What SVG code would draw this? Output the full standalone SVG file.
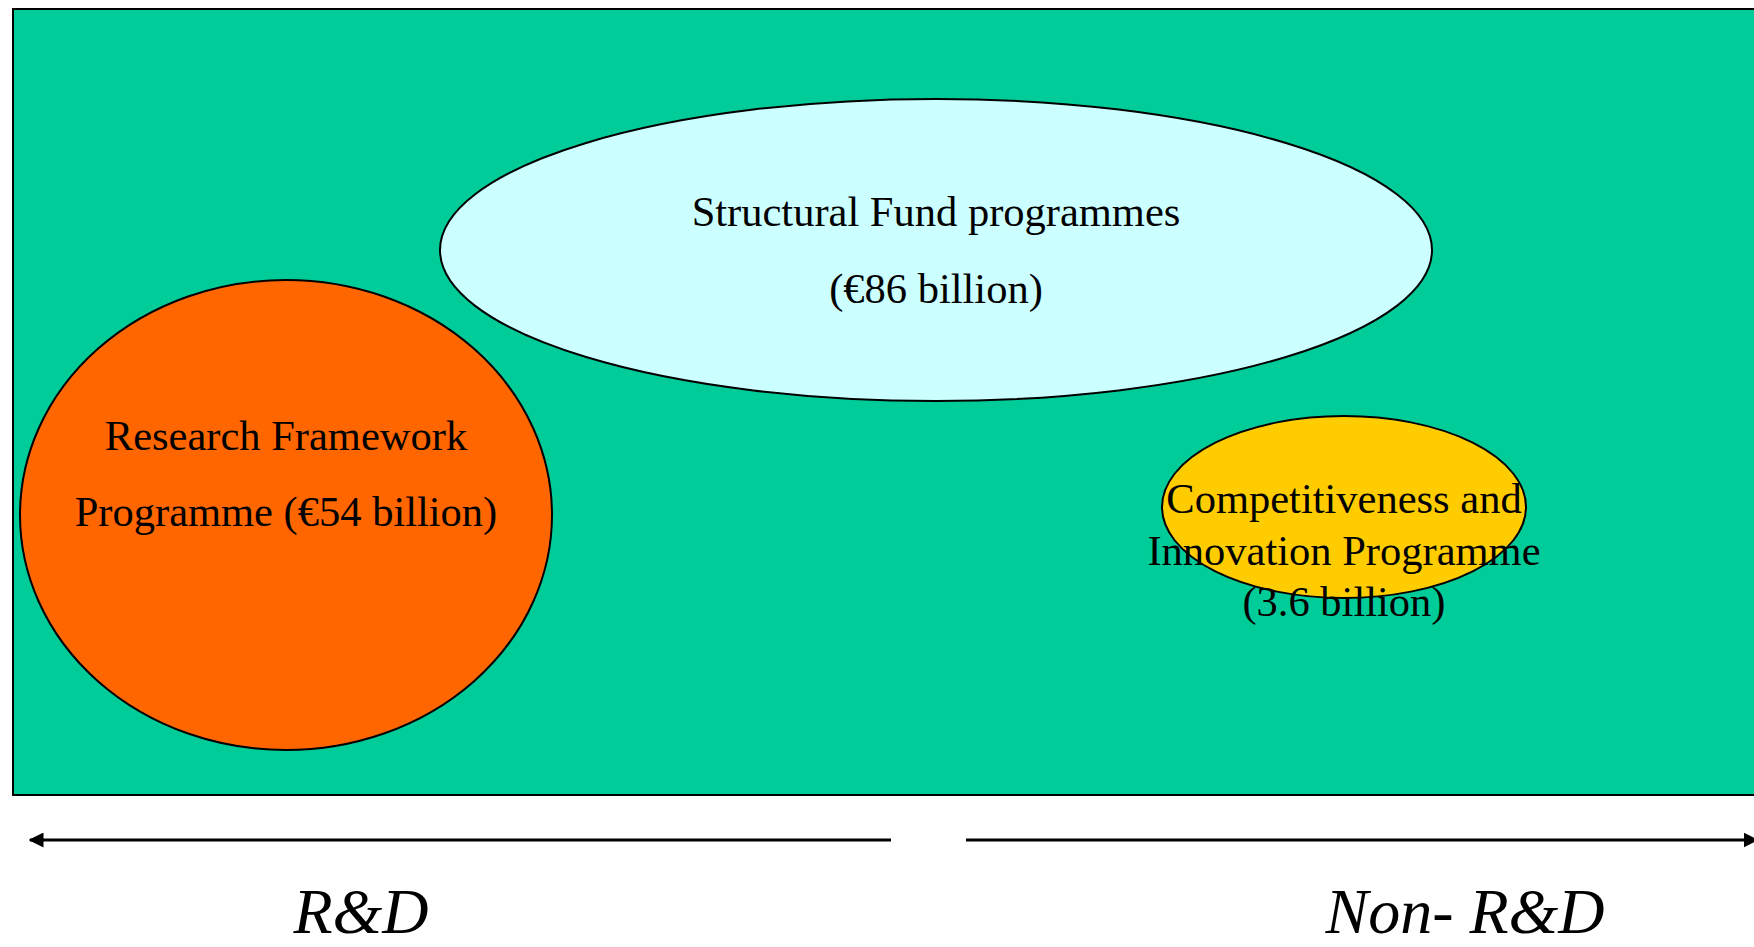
<svg xmlns="http://www.w3.org/2000/svg" width="1754" height="947" viewBox="0 0 1754 947">
<style>
.t{font-family:"Liberation Serif","Times New Roman",serif;font-size:42.5px;fill:#000;text-anchor:middle}
.lab{font-family:"Liberation Serif","Times New Roman",serif;font-size:64px;font-style:italic;fill:#000;text-anchor:middle}
.sh{stroke:#000;stroke-width:2}
.ar{stroke:#000;stroke-width:3;fill:none}
</style>
<defs>
<marker id="ah" viewBox="0 0 10 10" refX="9" refY="5" markerWidth="5" markerHeight="5" orient="auto-start-reverse" markerUnits="strokeWidth">
<path d="M0,0 L10,5 L0,10 z" fill="#000"/>
</marker>
</defs>
<rect width="1754" height="947" fill="#fff"/>
<g id="background">
<rect x="13" y="9" width="1760" height="786" fill="#00CC99" class="sh"/>
</g>
<g id="structural">
<ellipse cx="936" cy="250" rx="496" ry="151" fill="#CCFFFF" class="sh"/>
<text class="t" x="936" y="226">Structural Fund programmes</text>
<text class="t" x="936" y="303">(€86 billion)</text>
</g>
<g id="research">
<ellipse cx="286" cy="515" rx="266" ry="235" fill="#FF6600" class="sh"/>
<text class="t" x="286" y="450">Research Framework</text>
<text class="t" x="286" y="526">Programme (€54 billion)</text>
</g>
<g id="cip">
<ellipse cx="1344" cy="507" rx="182" ry="91" fill="#FFCC00" class="sh"/>
<text class="t" x="1344" y="513">Competitiveness and</text>
<text class="t" x="1344" y="565">Innovation Programme</text>
<text class="t" x="1344" y="616">(3.6 billion)</text>
</g>
<g id="connectors">
<line class="ar" x1="891" y1="840" x2="30" y2="840" marker-end="url(#ah)"/>
<line class="ar" x1="966" y1="840" x2="1757" y2="840" marker-end="url(#ah)"/>
</g>
<g id="labels">
<text class="lab" x="361" y="933">R&amp;D</text>
<text class="lab" x="1465" y="933">Non- R&amp;D</text>
</g>
</svg>
